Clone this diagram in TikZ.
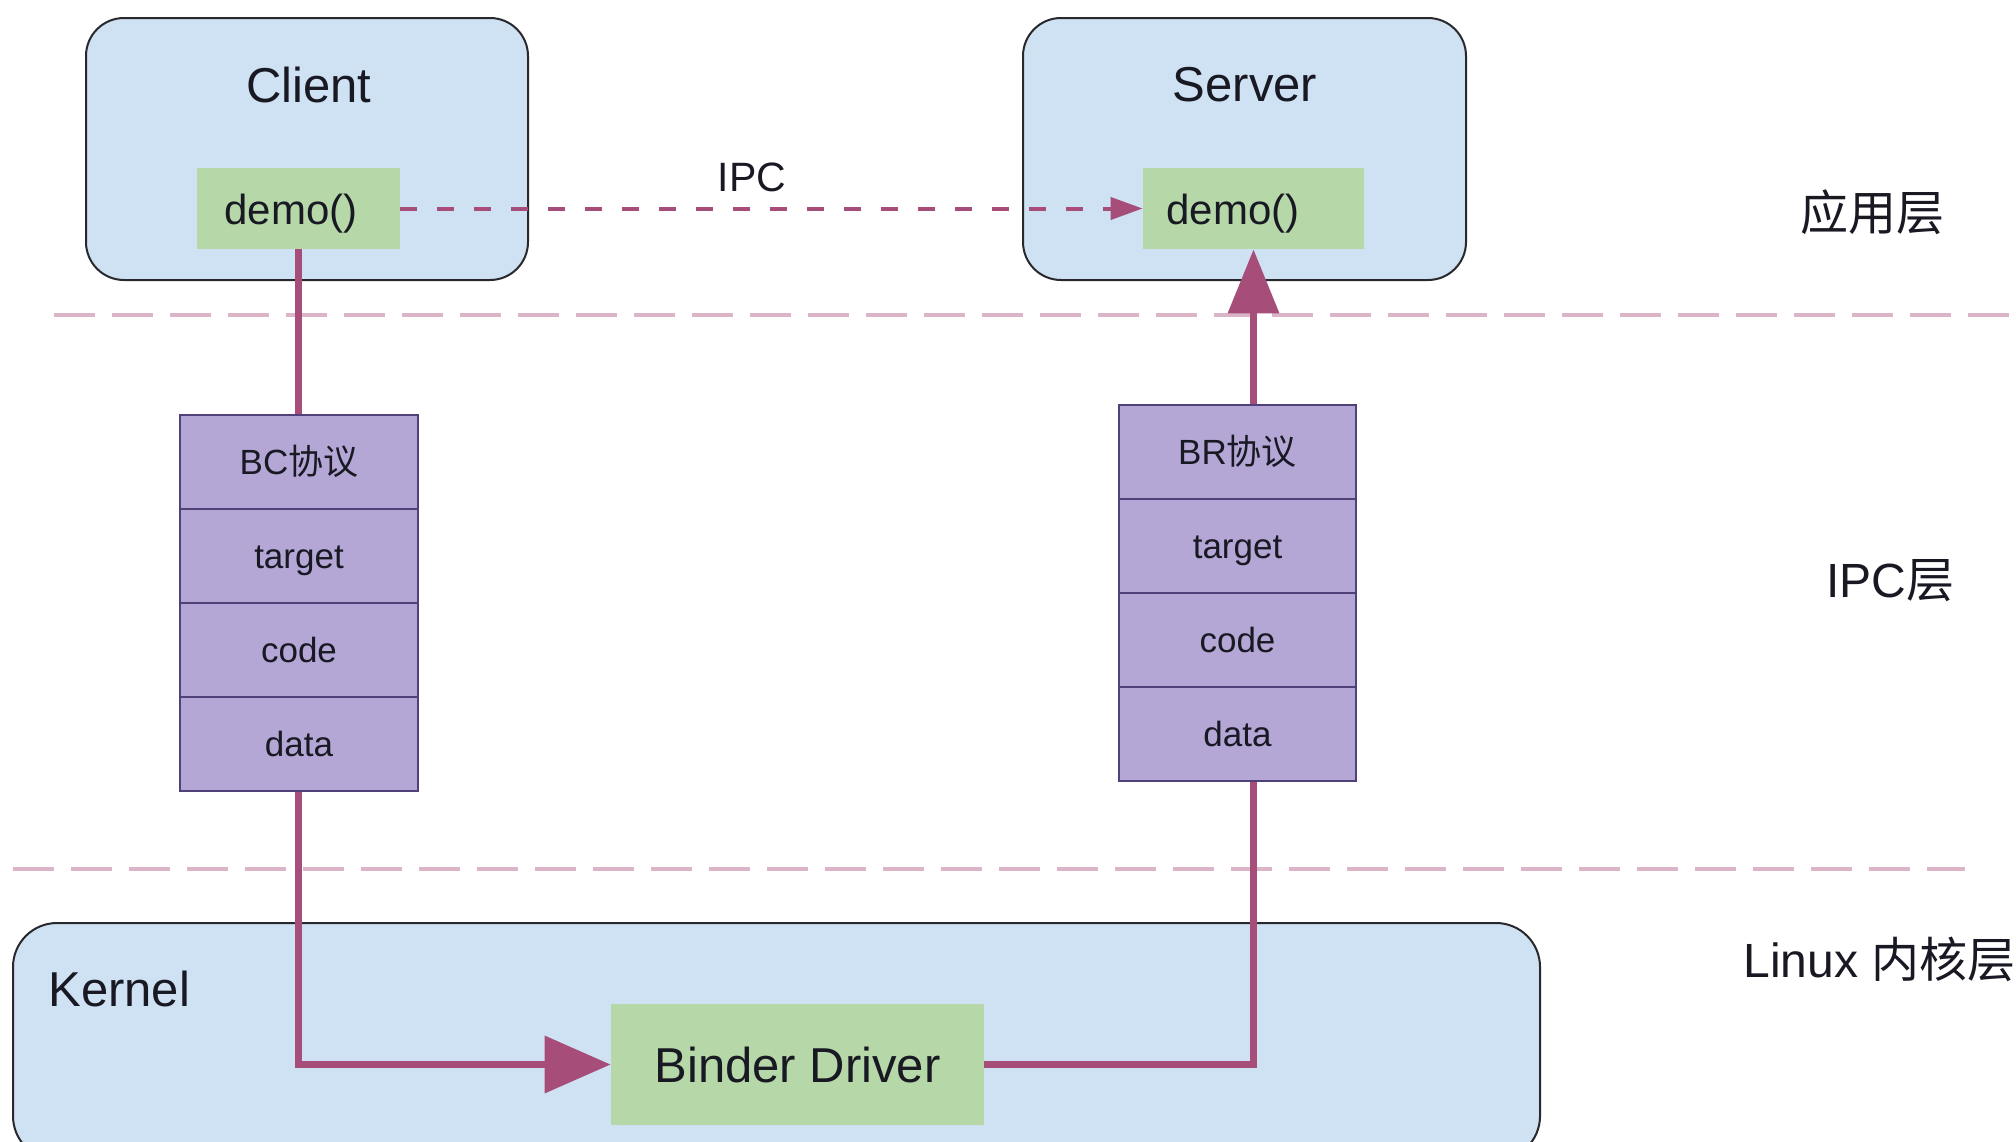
\documentclass[tikz,border=0pt]{standalone}
\usepackage{fontspec}
\setmainfont{Liberation Sans}
\newfontfamily\cjk{Noto Sans CJK SC}
\usetikzlibrary{arrows.meta}
\definecolor{boxblue}{RGB}{207,226,243}
\definecolor{boxgreen}{RGB}{182,215,168}
\definecolor{boxpurple}{RGB}{180,167,214}
\definecolor{stackline}{RGB}{80,66,120}
\definecolor{conncol}{RGB}{166,77,121}
\definecolor{sepcol}{RGB}{220,180,200}
\definecolor{txt}{RGB}{25,25,35}
\definecolor{frame}{RGB}{40,40,45}
\tikzset{
  bigfont/.style={font=\fontsize{24.5}{29}\selectfont},
  midfont/.style={font=\fontsize{21}{25}\selectfont},
  smallfont/.style={font=\fontsize{17.5}{21}\selectfont},
  layerfont/.style={font=\fontsize{24}{29}\selectfont},
  appbox/.style={draw=frame, line width=1pt, fill=boxblue, rounded corners=19pt, inner sep=0pt},
  greenbox/.style={fill=boxgreen, inner sep=0pt, text=txt},
  cell/.style={draw=stackline, line width=0.8pt, fill=boxpurple, inner sep=0pt, text=txt, smallfont,
               minimum width=119pt, minimum height=47pt, text height=12.5pt, text depth=0pt},
  conn/.style={draw=conncol, line width=3.5pt},
  sep/.style={draw=sepcol, line width=2pt, dash pattern=on 20.5pt off 8.5pt},
  ipcarrow/.style={draw=conncol, line width=2pt, dash pattern=on 8.5pt off 10pt,
                   -{Triangle[length=16pt,width=11pt]}},
  lbl/.style={text=txt, inner sep=0pt}
}
\begin{document}
\begin{tikzpicture}[x=0.5pt,y=-0.5pt]
\useasboundingbox (0,0) rectangle (2016,1141);
\clip (0,0) rectangle (2016,1141);

% separators
\coordinate (s1a) at (54,315);  \coordinate (s1b) at (2016,315);
\coordinate (s2a) at (13,869);  \coordinate (s2b) at (1965,869);
\draw[sep] (s1a) -- (s1b);
\draw[sep] (s2a) -- (s2b);

% app boxes
\node[appbox, minimum width=221pt, minimum height=131pt] (client) at (307,149) {};
\node[appbox, minimum width=221.5pt, minimum height=131pt] (server) at (1244.5,149) {};
\node[lbl, bigfont] (clientlbl) at (309,85) {Client};
\node[lbl, bigfont] (serverlbl) at (1245,85) {Server};

% kernel box
\node[appbox, rounded corners=22pt, minimum width=763.5pt, minimum height=118.5pt] (kernel) at (776.5,1041.5) {};
\node[lbl, bigfont, anchor=west] (kernellbl) at (48,989) {Kernel};

% green boxes
\node[greenbox, minimum width=101.5pt, minimum height=40.5pt] (cdemo) at (298.5,208.5) {};
\node[lbl, midfont, anchor=west] (cdemotxt) at (224,214) {demo()};
\node[greenbox, minimum width=110.5pt, minimum height=40.5pt] (sdemo) at (1253.5,208.5) {};
\node[lbl, midfont, anchor=west] (sdemotxt) at (1166,214) {demo()};
\node[greenbox, bigfont, minimum width=186.5pt, minimum height=60.5pt] (binder) at (797.5,1064.5) {Binder Driver};

% connectors
\draw[conn, -{Triangle[length=33pt,width=28pt]}] (cdemo.south) |- (binder.west);
\draw[conn, -{Triangle[length=32pt,width=25pt]}] (binder.east) -| (sdemo.south);
\draw[ipcarrow] (cdemo.east) -- (sdemo.west);
\node[lbl, font=\fontsize{20.5}{24}\selectfont] (ipclbl) at (752,177) {IPC};

% BC stack
\node[cell] (bc1) at (299,462) {BC{\cjk 协议}};
\node[cell] (bc2) at (299,556) {target};
\node[cell] (bc3) at (299,650) {code};
\node[cell] (bc4) at (299,744) {data};

% BR stack
\node[cell, minimum width=118.5pt] (br1) at (1237.5,452) {BR{\cjk 协议}};
\node[cell, minimum width=118.5pt] (br2) at (1237.5,546) {target};
\node[cell, minimum width=118.5pt] (br3) at (1237.5,640) {code};
\node[cell, minimum width=118.5pt] (br4) at (1237.5,734) {data};

% layer labels
\node[lbl, layerfont] (l1) at (1872,212) {\cjk 应用层};
\node[lbl, layerfont] (l2) at (1890,581) {IPC{\cjk 层}};
\node[lbl, layerfont, anchor=west] (l3) at (1743,959) {Linux {\cjk 内核层}};
\end{tikzpicture}
\end{document}
